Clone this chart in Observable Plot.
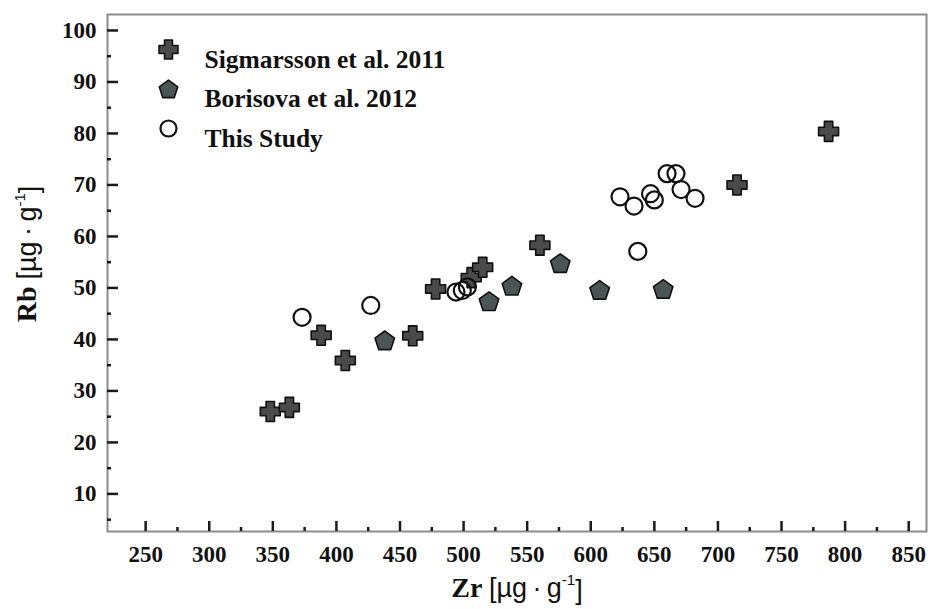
<!DOCTYPE html>
<html>
<head>
<meta charset="utf-8">
<script src="https://cdn.jsdelivr.net/npm/d3@7"></script>
<script src="https://cdn.jsdelivr.net/npm/@observablehq/plot@0.6"></script>
<style>
  body { margin: 0; background: #fff; }
</style>
</head>
<body>
<div id="chart"></div>
<script>
// Zr vs Rb (µg·g⁻¹) for three data sets
const sigmarssonZr = [348, 363, 388, 407, 460, 478, 506, 515, 560, 715, 787];
const sigmarssonRb = [26.0, 26.8, 40.8, 35.9, 40.7, 49.8, 52.0, 54.0, 58.3, 70.0, 80.4];

const borisovaZr = [438, 520, 538, 576, 607, 657];
const borisovaRb = [39.8, 47.4, 50.4, 54.8, 49.6, 49.8];

const studyZr = [373, 427, 494, 499, 503, 623, 634, 637, 647, 650, 660, 667, 671, 682];
const studyRb = [44.3, 46.6, 49.2, 49.5, 50.2, 67.7, 65.9, 57.1, 68.3, 67.1, 72.2, 72.2, 69.1, 67.4];

const seriesNames = ["Sigmarsson et al. 2011", "Borisova et al. 2012", "This Study"];

const xTicks = [250, 300, 350, 400, 450, 500, 550, 600, 650, 700, 750, 800, 850];
const xMinorTicks = [275, 325, 375, 425, 475, 525, 575, 625, 675, 725, 775, 825];
const yTicks = [10, 20, 30, 40, 50, 60, 70, 80, 90, 100];
const yMinorTicks = [5, 15, 25, 35, 45, 55, 65, 75, 85, 95];

const xTitle = "Zr [µg·g⁻¹]";
const yTitle = "Rb [µg·g⁻¹]";

// Marker shapes
const plusSymbol = {
  draw(context, size) {
    const R = Math.sqrt(size / Math.PI) * 1.05;
    const a = R * 0.42;
    context.moveTo(-a, -R);
    context.lineTo(a, -R);
    context.lineTo(a, -a);
    context.lineTo(R, -a);
    context.lineTo(R, a);
    context.lineTo(a, a);
    context.lineTo(a, R);
    context.lineTo(-a, R);
    context.lineTo(-a, a);
    context.lineTo(-R, a);
    context.lineTo(-R, -a);
    context.lineTo(-a, -a);
    context.closePath();
  }
};
const pentagonSymbol = {
  draw(context, size) {
    const R = Math.sqrt(size / Math.PI) * 1.08;
    for (let i = 0; i < 5; ++i) {
      const t = -Math.PI / 2 + (i * 2 * Math.PI) / 5;
      const px = R * Math.cos(t), py = R * Math.sin(t) + R * 0.08;
      if (i === 0) context.moveTo(px, py); else context.lineTo(px, py);
    }
    context.closePath();
  }
};

const sigmarsson = sigmarssonZr.map((zr, i) => ({zr, rb: sigmarssonRb[i]}));
const borisova = borisovaZr.map((zr, i) => ({zr, rb: borisovaRb[i]}));
const study = studyZr.map((zr, i) => ({zr, rb: studyRb[i]}));

const styles = [
  {symbol: plusSymbol, fill: "#4a4a4a", stroke: "#111", strokeWidth: 1.6, strokeLinejoin: "round"},
  {symbol: pentagonSymbol, fill: "#4c5555", stroke: "#111", strokeWidth: 1.6, strokeLinejoin: "round"},
  {symbol: "circle", fill: "none", stroke: "#111", strokeWidth: 2.2}
];
const markerR = 9.5;

const serif = "'Liberation Serif', 'Times New Roman', serif";
const sans = "'Liberation Sans', Arial, sans-serif";
const noLabel = () => "";
const tickColor = "#1a1a1a";

const legendMarks = seriesNames.flatMap((name, i) => [
  Plot.dot([name], {
    frameAnchor: "top-left", dx: 61, dy: 35 + i * 39.5, r: i === 2 ? 8 : 9,
    ...styles[i]
  }),
  Plot.text([name], {
    frameAnchor: "top-left", dx: 97, dy: 35 + i * 39.5, text: d => d,
    textAnchor: "start", fontSize: 25.5, fontWeight: "bold", fontFamily: serif, fill: "#111"
  })
]);

const chart = Plot.plot({
  width: 928,
  height: 609,
  marginLeft: 107,
  marginRight: 2,
  marginTop: 14,
  marginBottom: 78,
  x: {domain: [220, 864]},
  y: {domain: [2.7, 103.1]},
  marks: [
    Plot.frame({stroke: "#8c8c8c", strokeWidth: 2}),
    // inward major and minor ticks: outward ticks shifted back inside the frame
    Plot.axisX(xTicks, {tickSize: 10, dy: -10, strokeWidth: 2.5, stroke: tickColor, tickFormat: noLabel, label: null}),
    Plot.axisX(xMinorTicks, {tickSize: 4, dy: -4, strokeWidth: 2.5, stroke: tickColor, tickFormat: noLabel, label: null}),
    Plot.axisY(yTicks, {tickSize: 11, dx: 11, strokeWidth: 2.5, stroke: tickColor, tickFormat: noLabel, label: null}),
    Plot.axisY(yMinorTicks, {tickSize: 4, dx: 4, strokeWidth: 2.5, stroke: tickColor, tickFormat: noLabel, label: null}),
    // tick labels
    Plot.axisX(xTicks, {tickSize: 0, tickPadding: 14, fontSize: 23, fontWeight: "bold", fontFamily: serif, fill: "#111", label: null}),
    Plot.axisY(yTicks, {tickSize: 0, tickPadding: 11, fontSize: 23, fontWeight: "bold", fontFamily: serif, fill: "#111", label: null}),
    // axis titles
    Plot.text([xTitle], {frameAnchor: "bottom", dy: 65, text: d => d, fontSize: 27, fontFamily: sans, fill: "#111"}),
    Plot.text([yTitle], {frameAnchor: "left", textAnchor: "middle", dx: -80, dy: -19, rotate: -90, text: d => d, fontSize: 27, fontFamily: sans, fill: "#111"}),
    // data
    Plot.dot(sigmarsson, {x: "zr", y: "rb", r: markerR, ...styles[0]}),
    Plot.dot(borisova, {x: "zr", y: "rb", r: markerR, ...styles[1]}),
    Plot.dot(study, {x: "zr", y: "rb", r: 8.5, ...styles[2]}),
    ...legendMarks
  ]
});

// Titles: element symbol in bold serif, unit in sans with superscript exponent
d3.select(chart).selectAll("text").each(function() {
  const t = this.textContent;
  if (t !== xTitle && t !== yTitle) return;
  const el = d3.select(this);
  const sym = t.split(" ")[0];
  el.text(null);
  el.append("tspan").attr("font-family", serif).attr("font-weight", "bold").attr("font-size", 28).text(sym + " ");
  el.append("tspan").text("[µg\u2009·\u2009g");
  el.append("tspan").attr("font-size", 15).attr("dy", "-0.75em").text("-1");
  el.append("tspan").attr("dy", "0.5em").text("]");
});

document.getElementById("chart").appendChild(chart);
</script>
</body>
</html>
